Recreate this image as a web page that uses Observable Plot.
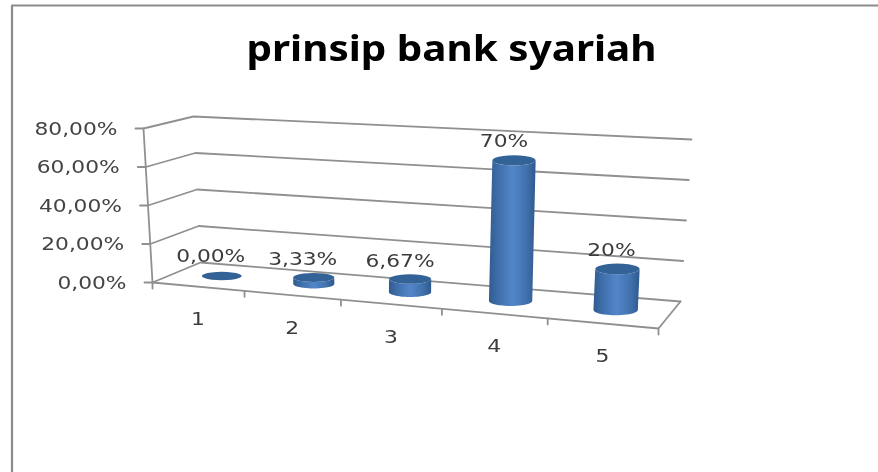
<!DOCTYPE html>
<html><head><meta charset="utf-8">
<script src="https://cdn.jsdelivr.net/npm/d3@7"></script>
<script src="https://cdn.jsdelivr.net/npm/@observablehq/plot@0.6"></script>
<style>html,body{margin:0;padding:0;background:#fff}svg{display:block;filter:blur(0.5px)}</style>
</head><body><div id="chart"></div>
<script>
const titleText = "prinsip bank syariah";
const categories = ["1","2","3","4","5"];
const values = [0, 0.0333, 0.0667, 0.70, 0.20];
const valueLabels = ["0,00%","3,33%","6,67%","70%","20%"];
const axisValues = [0, 0.2, 0.4, 0.6, 0.8];
const axisLabels = ["0,00%","20,00%","40,00%","60,00%","80,00%"];

// Oblique view of the chart box: floor corners and the lift of the 80% level at each corner
const floor = {fl:[152,282], fr:[658,328], br:[680,301], bl:[200,262]};
const lift80 = {fl:[-9,-154], fr:[7,-168], br:[11,-162], bl:[-7,-146]};
const W = 878, H = 472;

function homography(p0,p1,p2,p3){
  const dx1=p1[0]-p2[0],dx2=p3[0]-p2[0],sx=p0[0]-p1[0]+p2[0]-p3[0];
  const dy1=p1[1]-p2[1],dy2=p3[1]-p2[1],sy=p0[1]-p1[1]+p2[1]-p3[1];
  const d=dx1*dy2-dx2*dy1;
  const g=(sx*dy2-dx2*sy)/d,h=(dx1*sy-sx*dy1)/d;
  const a=p1[0]-p0[0]+g*p1[0],b=p3[0]-p0[0]+h*p3[0],c=p0[0];
  const e=p1[1]-p0[1]+g*p1[1],f=p3[1]-p0[1]+h*p3[1],i=p0[1];
  return (u,v)=>{const k=g*u+h*v+1;return [(a*u+b*v+c)/k,(e*u+f*v+i)/k];};
}
const floorAt = homography(floor.fl,floor.fr,floor.br,floor.bl);
// u: 0..5 along categories, w: 0 front..1 back, v: value
function project(u,w,v){
  const s=u/5;
  const [x,y]=floorAt(s+0.07*s*(1-s),w);
  const lx=(1-w)*((1-s)*lift80.fl[0]+s*lift80.fr[0])+w*((1-s)*lift80.bl[0]+s*lift80.br[0]);
  const ly=(1-w)*((1-s)*lift80.fl[1]+s*lift80.fr[1])+w*((1-s)*lift80.bl[1]+s*lift80.br[1]);
  return {x:x+lx*v/0.8,y:y+ly*v/0.8};
}

// straight frame lines
const frame=[]; let id=0;
const seg=(pts)=>{id++;pts.forEach(p=>frame.push({...p,id}));};
axisValues.forEach(v=>{
  const a=project(0,0,v);
  seg([{x:a.x-8,y:a.y},a,project(0,1,v),project(5,1,v)]);
});
seg([project(0,0,0),project(0,0,0.8)]);
const f0=project(0,0,0),f5=project(5,0,0);
seg([{x:f0.x,y:f0.y+6},f0,f5,{x:f5.x,y:f5.y+6}]);
seg([f5,project(5,1,0)]);
d3.range(1,5).forEach(u=>{const t=project(u,0,0);seg([t,{x:t.x,y:t.y+6}]);});

// cylinders
const bodies=[],caps=[];
const arc=(c,rx,ry,a0,a1)=>d3.range(0,25).map(k=>{const t=a0+(a1-a0)*k/24;return {x:c.x+rx*Math.cos(t),y:c.y+ry*Math.sin(t)};});
values.forEach((v,i)=>{
  const rx=20+0.55*i, ry=4.2+0.3*i;
  const base=project(i+0.5,0.5,0), top=project(i+0.5,0.5,v);
  if(v>0) [...arc(base,rx,ry,Math.PI,0),...arc(top,rx,ry,0,Math.PI)].forEach(p=>bodies.push({...p,i}));
  arc(top,rx,ry,0,2*Math.PI).forEach(p=>caps.push({...p,i}));
});

const labelNudge=[[-11,-19],[-11,-18],[-10,-18],[-10,-19],[-6,-18]];
const valueText=values.map((v,i)=>{const t=project(i+0.5,0.5,v);return {x:t.x+labelNudge[i][0],y:t.y+labelNudge[i][1],t:valueLabels[i]};});
const axisText=axisValues.map((v,i)=>{const t=project(0,0,v);return {x:t.x-26,y:t.y+1,t:axisLabels[i]};});
const catText=categories.map((c,i)=>{const t=project(i+0.5,0,0);return {x:t.x,y:t.y+33,t:c};});

const defs=()=>{
  const s=d3.create("svg:defs");
  const g=s.append("linearGradient").attr("id","cyl").attr("x1",0).attr("x2",1).attr("y1",0).attr("y2",0);
  [[0,"#2f5b8f"],[0.2,"#3f6fab"],[0.5,"#5286c9"],[0.8,"#4172ae"],[1,"#2e598c"]].forEach(([o,c])=>g.append("stop").attr("offset",o).attr("stop-color",c));
  return s.node();
};

const plot=Plot.plot({
  width:W,height:H,margin:0,
  style:{background:"#fff",overflow:"visible"},
  x:{axis:null,domain:[0,W],range:[0,W]},
  y:{axis:null,domain:[0,H],range:[0,H]},
  marks:[
    defs,
    Plot.line([{x:W,y:5},{x:11.5,y:5},{x:11.5,y:H}],{x:"x",y:"y",stroke:"#8c8c8c",strokeWidth:2.2,curve:"linear"}),
    Plot.line(frame,{x:"x",y:"y",z:"id",stroke:"#909090",strokeWidth:1.8,curve:"linear"}),
    Plot.line(bodies,{x:"x",y:"y",z:"i",fill:"url(#cyl)",stroke:"none",curve:"linear"}),
    Plot.line(caps,{x:"x",y:"y",z:"i",fill:"#336296",stroke:"none",curve:"linear"}),
    Plot.text(axisText,{x:"x",y:"y",text:"t",textAnchor:"end",fontSize:17,fontFamily:"DejaVu Sans",fill:"#444",className:"wide"}),
    Plot.text(valueText,{x:"x",y:"y",text:"t",fontSize:17,fontFamily:"DejaVu Sans",fill:"#3c3c3c",className:"wide"}),
    Plot.text(catText,{x:"x",y:"y",text:"t",fontSize:17,fontFamily:"DejaVu Sans",fill:"#3c3c3c",className:"wide"}),
    Plot.text([titleText],{x:()=>451,y:()=>49,text:d=>d,fontSize:36,fontWeight:"bold",fontFamily:"Noto Sans",fill:"#000",className:"ttl"})
  ]
});
document.getElementById("chart").append(plot);
plot.querySelectorAll(".wide text").forEach(t=>{
  t.setAttribute("textLength",(t.getComputedTextLength()*1.28).toFixed(1));
  t.setAttribute("lengthAdjust","spacingAndGlyphs");
});
plot.querySelectorAll(".ttl text").forEach(t=>{
  t.setAttribute("textLength","410");
  t.setAttribute("lengthAdjust","spacingAndGlyphs");
});
</script></body></html>
